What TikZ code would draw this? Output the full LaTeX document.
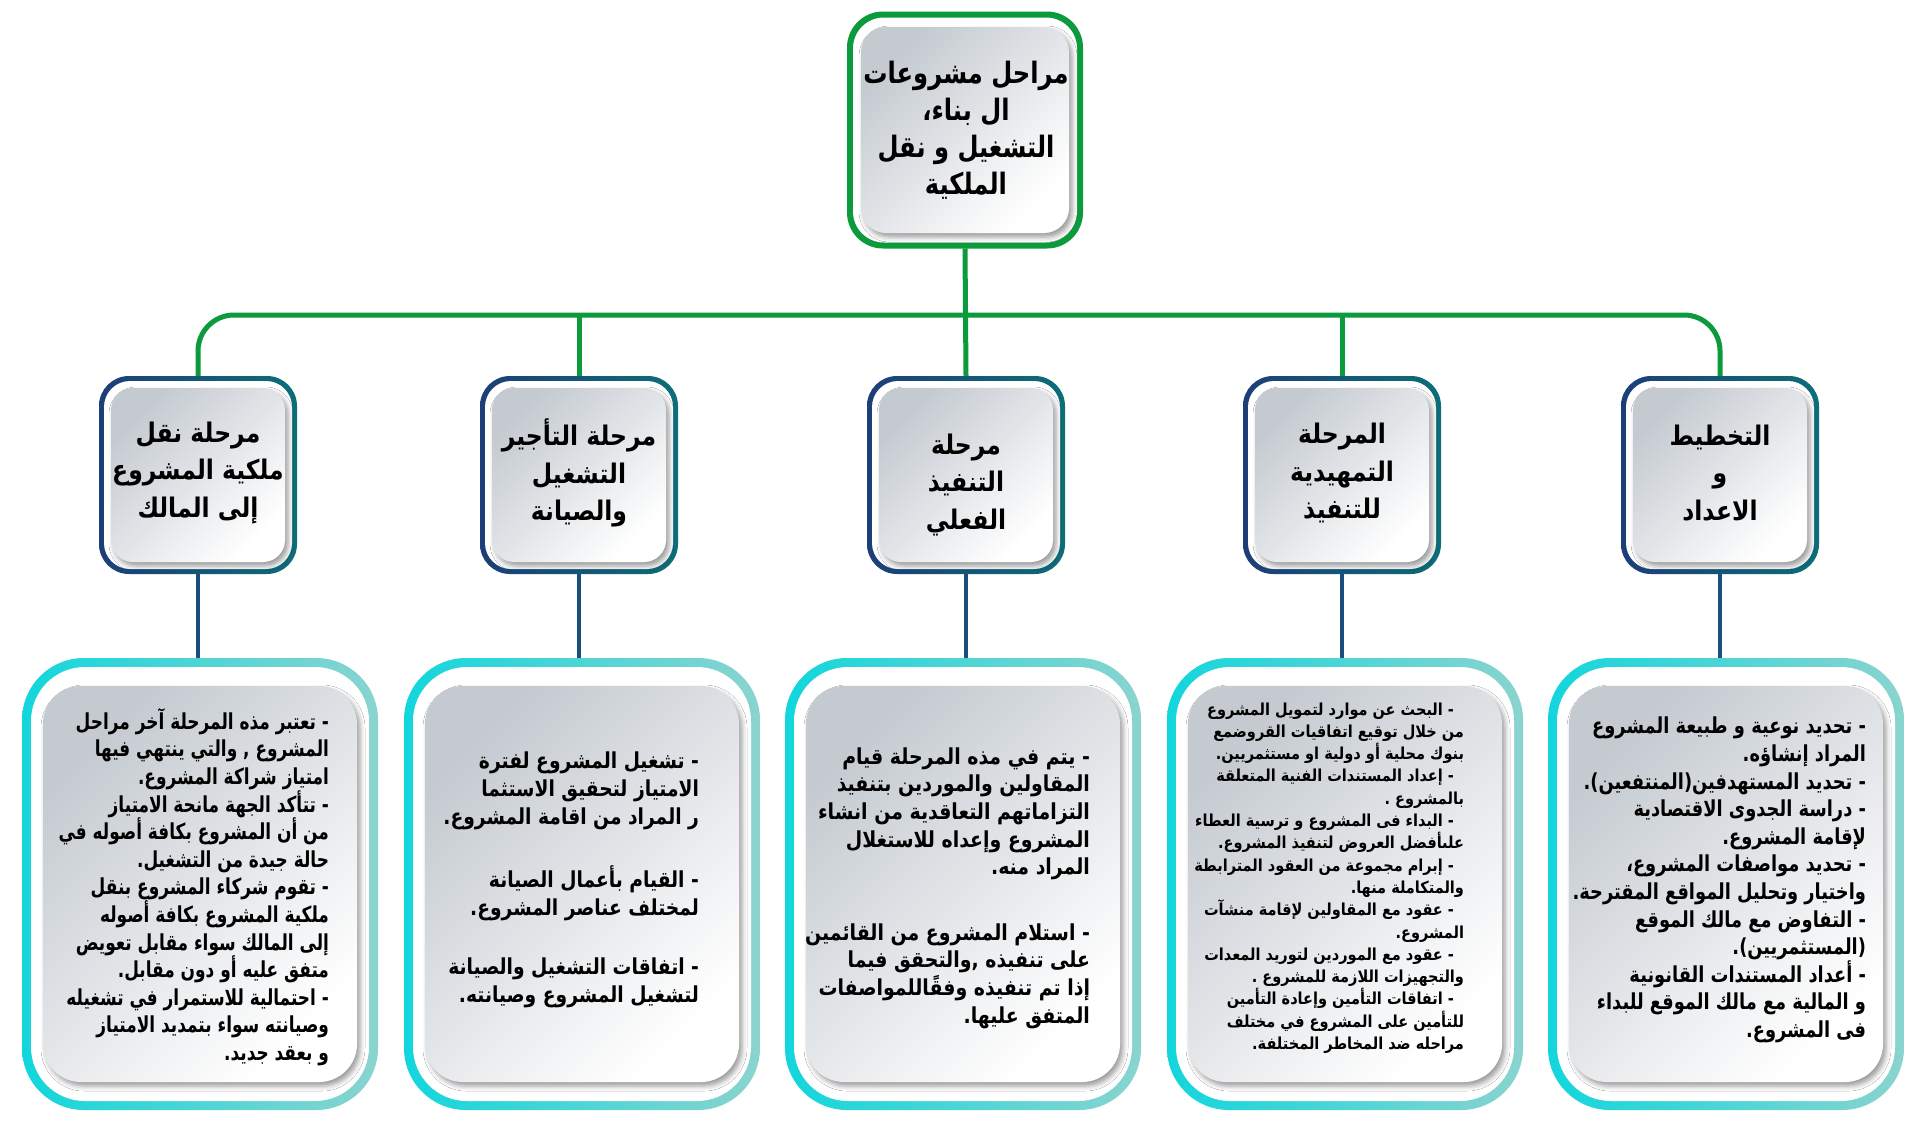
\documentclass[tikz,border=0pt]{standalone}
\usepackage{fontspec}
\usetikzlibrary{shadows.blur}
\TeXXeTstate=1
\newfontfamily\arabicfont[Script=Arabic]{DejaVu Sans}
\newfontfamily\arTop[Script=Arabic,FakeStretch=0.82]{DejaVu Sans}
\newfontfamily\arPh[Script=Arabic,FakeStretch=0.87]{DejaVu Sans}
\newfontfamily\arBa[Script=Arabic,FakeStretch=0.77]{DejaVu Sans}
\newfontfamily\arBb[Script=Arabic,FakeStretch=0.85]{DejaVu Sans}
\newfontfamily\arBc[Script=Arabic,FakeStretch=0.86]{DejaVu Sans}
\newfontfamily\arBd[Script=Arabic,FakeStretch=0.88]{DejaVu Sans}
\newfontfamily\arBe[Script=Arabic,FakeStretch=0.81]{DejaVu Sans}
\newcommand\arl[1]{\beginR #1\endR}
\newcommand\dl[1]{\beginR #1\endR\rule{10pt}{0pt}}
\definecolor{grn}{HTML}{0B9A3C}
\definecolor{navyb}{HTML}{1D3E78}
\definecolor{tealb}{HTML}{0C6E78}
\definecolor{cyanL}{HTML}{12D6DC}
\definecolor{cyanR}{HTML}{8AD4CF}
\definecolor{grayA}{HTML}{C4CAD0}
\definecolor{linkb}{HTML}{1B4E7C}
\tikzset{
  every node/.style={inner sep=0pt, outer sep=0pt},
  gline/.style={draw=grn, line width=5pt},
  bline/.style={draw=linkb, line width=4pt},
  graybox/.style={rectangle, top color=grayA, bottom color=white, shading angle=45,
     blur shadow={shadow xshift=3pt, shadow yshift=-4pt, shadow blur radius=5pt, shadow opacity=40}},
  topframe/.style={rectangle, rounded corners=36pt, fill=grn, minimum width=236pt, minimum height=237pt},
  topwhite/.style={rectangle, rounded corners=31pt, fill=white, minimum width=224pt, minimum height=225pt},
  topgray/.style={graybox, rounded corners=25pt, minimum width=208pt, minimum height=206pt},
  phaseframe/.style={rectangle, rounded corners=30pt, left color=navyb, right color=tealb, minimum width=198pt, minimum height=198pt},
  phasewhite/.style={rectangle, rounded corners=26pt, fill=white, minimum width=188pt, minimum height=188pt},
  phasegray/.style={graybox, rounded corners=22pt, minimum width=174pt, minimum height=174pt},
  botframe/.style={rectangle, rounded corners=62pt, left color=cyanL, right color=cyanR, minimum width=356pt, minimum height=452pt},
  botwhite/.style={rectangle, rounded corners=54pt, fill=white, minimum width=338pt, minimum height=434pt},
  botgray/.style={graybox, rounded corners=38pt, minimum width=314pt, minimum height=396pt},
  toptext/.style={font=\arTop\bfseries\fontsize{29.5}{37}\selectfont, align=center, text=black},
  ptext/.style={font=\arPh\bfseries\fontsize{27}{37.5}\selectfont, align=center, text=black},
  btext/.style={align=right, anchor=east, text=black},
}
\newcommand\bfont[1]{#1\bfseries\fontsize{22}{27.6}\selectfont}
\newcommand\mkphase[2]{%
  \node[phaseframe] (#1) at (#2,475) {};
  \node[phasewhite] at (#1) {};
  \node[phasegray] (#1g) at (#1) {};
}
\newcommand\mkbot[2]{%
  \node[botframe] (#1) at (#2,884) {};
  \node[botwhite] at (#1) {};
  \node[botgray] (#1g) at (#1) {};
}
\begin{document}
\begin{tikzpicture}[x=1pt,y=-1pt]
\useasboundingbox (0,0) rectangle (1920,1125);
\fill[white] (0,0) rectangle (1920,1125);

% top box
\node[topframe] (top) at (965,130) {};
\node[topwhite] at (top) {};
\node[topgray] (topg) at (top) {};
\node[toptext] (toptx) at (966,130) {\arl{مراحل مشروعات}\\\arl{ال بناء،}\\\arl{التشغيل و نقل}\\\arl{الملكية}};

% phase boxes
\mkphase{p1}{198}
\mkphase{p2}{579}
\mkphase{p3}{966}
\mkphase{p4}{1342}
\mkphase{p5}{1720}
\node[ptext] (p1t) at (198,473) {\arl{مرحلة نقل}\\\arl{ملكية المشروع}\\\arl{إلى المالك}};
\node[ptext] (p2t) at (579,473) {\arl{مرحلة التأجير}\\\arl{التشغيل}\\\arl{والصيانة}};
\node[ptext] (p3t) at (966,485) {\arl{مرحلة}\\\arl{التنفيذ}\\\arl{الفعلي}};
\node[ptext] (p4t) at (1342,473) {\arl{المرحلة}\\\arl{التمهيدية}\\\arl{للتنفيذ}};
\node[ptext] (p5t) at (1720,473) {\arl{التخطيط}\\\arl{و}\\\arl{الاعداد}};

% bottom boxes
\mkbot{b1}{200}
\mkbot{b2}{582}
\mkbot{b3}{963}
\mkbot{b4}{1345}
\mkbot{b5}{1726}

% connectors
\coordinate (hb) at (965,315);
\draw[gline, rounded corners=36pt] (p1.north) -- (p1.north |- hb) -- (p5.north |- hb) -- (p5.north);
\draw[gline] (top.south) -- (p3.north);
\draw[gline] (p2.north |- hb) -- (p2.north);
\draw[gline] (p4.north |- hb) -- (p4.north);
\foreach \i in {1,...,5} {
  \draw[bline] (p\i.south) -- (p\i.south |- b\i.north);
}

% bottom texts
\node[btext, font=\bfont\arBa] (b1t) at (329,887) {\arl{- تعتبر مذه المرحلة آخر مراحل}\\
\arl{المشروع , والتي ينتهي فيها}\\
\arl{امتياز شراكة المشروع.}\\
\arl{- تتأكد الجهة مانحة الامتياز}\\
\arl{من أن المشروع بكافة أصوله في}\\
\arl{حالة جيدة من التشغيل.}\\
\arl{- تقوم شركاء المشروع بنقل}\\
\arl{ملكية المشروع بكافة أصوله}\\
\arl{إلى المالك سواء مقابل تعويض}\\
\arl{متفق عليه أو دون مقابل.}\\
\arl{- احتمالية للاستمرار في تشغيله}\\
\arl{وصيانته سواء بتمديد الامتياز}\\
\arl{و بعقد جديد.}};

\node[btext, font=\bfont\arBb] (b2t) at (699,880) {\arl{- تشغيل المشروع لفترة}\\
\arl{الامتياز لتحقيق الاستثما}\\
\arl{ر المراد من اقامة المشروع.}\\[36pt]
\arl{- القيام بأعمال الصيانة}\\
\arl{لمختلف عناصر المشروع.}\\[32pt]
\arl{- اتفاقات التشغيل والصيانة}\\
\arl{لتشغيل المشروع وصيانته.}};

\node[btext, font=\bfont\arBc] (b3t) at (1090,888) {\arl{- يتم في مذه المرحلة قيام}\\
\arl{المقاولين والموردين بتنفيذ}\\
\arl{التزاماتهم التعاقدية من انشاء}\\
\arl{المشروع وإعداه للاستغلال}\\
\arl{المراد منه.}\\[38pt]
\arl{- استلام المشروع من القائمين}\\
\arl{على تنفيذه ,والتحقق فيما}\\
\arl{إذا تم تنفيذه وفقًاللمواصفات}\\
\arl{المتفق عليها.}};

\node[btext, font=\arBd\bfseries\fontsize{16.5}{22.3}\selectfont] (b4t) at (1464,878) {\dl{- البحث عن موارد لتمويل المشروع}\\
\arl{من خلال توقيع اتفاقيات القروضمع}\\
\arl{بنوك محلية أو دولية  او مستثمريين.}\\
\dl{- إعداد المستندات الفنية المتعلقة}\\
\arl{بالمشروع .}\\
\dl{- البداء فى المشروع و ترسية العطاء}\\
\arl{علىأفضل العروض لتنفيذ المشروع.}\\
\dl{- إبرام مجموعة من العقود المترابطة}\\
\arl{والمتكاملة منها.}\\
\dl{- عقود مع المقاولين لإقامة منشآت}\\
\arl{المشروع.}\\
\dl{- عقود مع الموردين لتوريد المعدات}\\
\arl{والتجهيزات اللازمة للمشروع .}\\
\dl{- اتفاقات التأمين وإعادة التأمين}\\
\arl{للتأمين على المشروع في مختلف}\\
\arl{مراحله ضد المخاطر المختلفة.}};

\node[btext, font=\bfont\arBe] (b5t) at (1866,880) {\arl{- تحديد نوعية و طبيعة المشروع}\\
\arl{المراد إنشاؤه.}\\
\arl{- تحديد المستهدفين(المنتفعين).}\\
\arl{- دراسة الجدوى الاقتصادية}\\
\arl{لإقامة المشروع.}\\
\arl{- تحديد مواصفات المشروع،}\\
\arl{واختيار وتحليل المواقع المقترحة.}\\
\arl{- التفاوض مع  مالك الموقع}\\
\arl{(المستثمريين).}\\
\arl{- أعداد المستندات القانونية}\\
\arl{و المالية مع مالك الموقع  للبداء}\\
\arl{فى المشروع.}};
\end{tikzpicture}
\end{document}
